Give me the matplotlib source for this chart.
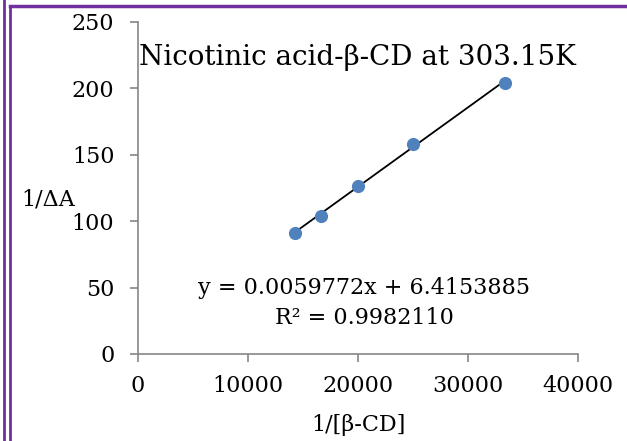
import numpy as np
import matplotlib.pyplot as plt
from matplotlib.lines import Line2D

# ----------------------------
# DATOS
# ----------------------------

inv_cd = [14286, 16667, 20000, 25000, 33333]
inv_dA = [91.0, 104.0, 126.5, 158.5, 204.0]

slope = 0.0059772
intercept = 6.4153885
r2 = 0.9982110

title = "Nicotinic acid-β-CD at 303.15K"
x_label = "1/[β-CD]"
y_label = "1/ΔA"

# ----------------------------
# FIGURA
# ----------------------------

plt.rcParams["font.family"] = ["DejaVu Serif"]

fig = plt.figure(figsize=(6.27, 4.41), dpi=100)
ax = fig.add_axes([138 / 627, 87 / 441, 440 / 627, 332 / 441])

ax.scatter(inv_cd, inv_dA, s=90, color="#4F81BD", zorder=3, linewidths=0)

x_fit = np.array([min(inv_cd), max(inv_cd)])
ax.plot(x_fit, slope * x_fit + intercept, color="black", lw=1.3, zorder=2)

ax.set_xlim(0, 40000)
ax.set_ylim(0, 250)
ax.set_xticks([0, 10000, 20000, 30000, 40000])
ax.set_yticks([0, 50, 100, 150, 200, 250])

for side in ["top", "right"]:
    ax.spines[side].set_visible(False)
for side in ["left", "bottom"]:
    ax.spines[side].set_color("#868686")
    ax.spines[side].set_linewidth(1.2)

ax.tick_params(colors="#868686", labelcolor="black", labelsize=16,
               length=6, width=1.2, direction="out")
ax.tick_params(axis="y", pad=11)
ax.tick_params(axis="x", pad=9)

ax.text(1.0 / 440, 223, title, transform=ax.get_yaxis_transform(),
        fontsize=20, ha="left", va="center")
ax.set_xlabel(x_label, fontsize=16, labelpad=12)
ax.set_ylabel(y_label, fontsize=16, rotation=0, ha="center", va="center")
ax.yaxis.set_label_coords(-0.205, 0.464)

ax.text(20550, 50, f"y = {slope:.7f}x + {intercept:.7f}",
        fontsize=16, ha="center", va="center")
ax.text(20550, 27, f"R² = {r2:.7f}", fontsize=16, ha="center", va="center")

# bordes morados
purple = "#7030A0"
fig.lines.append(Line2D([4 / 627, 4 / 627], [0, 1], color=purple, lw=2,
                        transform=fig.transFigure))
fig.lines.append(Line2D([10 / 627, 10 / 627], [0, 1 - 6 / 441], color=purple,
                        lw=2, transform=fig.transFigure))
fig.lines.append(Line2D([10 / 627, 1], [1 - 6 / 441, 1 - 6 / 441], color=purple,
                        lw=2.5, transform=fig.transFigure))

plt.savefig("out.png", dpi=100)
